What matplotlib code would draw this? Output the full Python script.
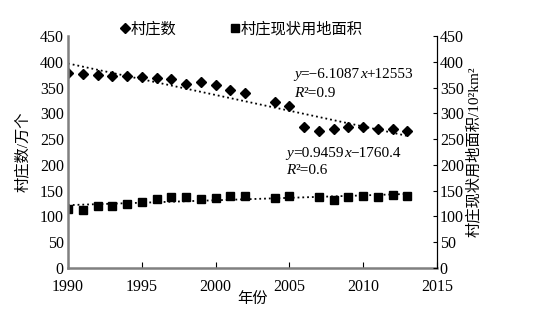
import matplotlib
matplotlib.use("Agg")
import matplotlib.pyplot as plt
from matplotlib.offsetbox import TextArea, HPacker, AnnotationBbox
import numpy as np

plt.rcParams['font.family'] = ['Liberation Serif', 'Noto Sans CJK SC']

# --- data ---
years_village = [1990, 1991, 1992, 1993, 1994, 1995, 1996, 1997, 1998, 1999, 2000,
                 2001, 2002, 2004, 2005, 2006, 2007, 2008, 2009, 2010, 2011, 2012, 2013]
village_count = [378, 377, 375, 372, 372, 370, 368, 366, 356, 360, 354,
                 346, 340, 322, 315, 273, 266, 269, 273, 274, 269, 269, 266]

years_area = [1990, 1991, 1992, 1993, 1994, 1995, 1996, 1997, 1998, 1999, 2000,
              2001, 2002, 2004, 2005, 2007, 2008, 2009, 2010, 2011, 2012, 2013]
land_area = [114, 112, 120, 121, 125, 128, 134, 137, 138, 134, 136,
             140, 139, 136, 140, 138, 132, 137, 140, 138, 142, 140]

# trend line coefficients (slope, intercept) as printed on the chart
fit_village = (-6.1087, 12553)
fit_area = (0.9459, -1760.4)
fit_range = [1990, 2013]

fig = plt.figure(figsize=(5.42, 3.24), dpi=100)
ax = fig.add_axes([0.1255, 0.1728, 0.6808, 0.7161])
ax2 = ax.twinx()

p1, = ax.plot(years_village, village_count, 'D', color='black', markersize=5, linestyle='none', label='村庄数')
p2, = ax.plot(years_area, land_area, 's', color='black', markersize=6, linestyle='none', label='村庄现状用地面积')

xs = np.array(fit_range)
ax.plot(xs, fit_village[0] * xs + fit_village[1], color='black', linestyle=':', linewidth=1.3)
ax.plot(xs, fit_area[0] * xs + fit_area[1], color='black', linestyle=':', linewidth=1.3)

ax.set_xlim(1990, 2015)
ax.set_ylim(0, 450)
ax2.set_ylim(0, 450)
ax.set_xticks([1990, 1995, 2000, 2005, 2010, 2015])
ax.set_yticks(range(0, 451, 50))
ax2.set_yticks(range(0, 451, 50))

for a in (ax, ax2):
    a.spines['top'].set_visible(False)
ax.spines['left'].set_color('#808080')
ax.spines['bottom'].set_color('#808080')
ax.spines['left'].set_linewidth(1.8)
ax.spines['bottom'].set_linewidth(1.8)
ax2.spines['left'].set_visible(False)
ax2.spines['bottom'].set_visible(False)
ax2.spines['right'].set_color('black')
ax2.spines['right'].set_linewidth(0.8)

ax.tick_params(axis='x', direction='in', length=4, color='black', labelsize=11.5, pad=8)
ax.tick_params(axis='y', direction='in', length=0, labelsize=11.5, pad=3)
ax2.tick_params(axis='y', direction='in', length=3, labelsize=11.5, pad=2)
for lbl in ax.get_yticklabels() + ax2.get_yticklabels():
    lbl.set_verticalalignment('center_baseline')

ax.set_xlabel('年份', fontsize=11, labelpad=-2)
ax.set_ylabel('村庄数/万个', fontsize=11, labelpad=7)
ax2.set_ylabel('村庄现状用地面积/10²km²', fontsize=11, labelpad=2)


def rich_text(x, y, parts):
    # parts: list of (text, italic)
    boxes = [TextArea(t, textprops=dict(fontsize=11, style='italic' if it else 'normal'))
             for t, it in parts]
    pack = HPacker(children=boxes, align='baseline', pad=0, sep=0)
    ab = AnnotationBbox(pack, (x, y), xycoords='data', box_alignment=(0, 0.5),
                        frameon=False, pad=0)
    ax.add_artist(ab)


rich_text(2005.3, 375, [('y', True), ('=\u22126.1087', False), ('x', True), ('+12553', False)])
rich_text(2005.3, 338, [('R', True), ('\u00b2=0.9', False)])
rich_text(2004.8, 222, [('y', True), ('=0.9459', False), ('x', True), ('\u22121760.4', False)])
rich_text(2004.8, 189, [('R', True), ('\u00b2=0.6', False)])

ax.legend(handles=[p1, p2], ncol=2, frameon=False, loc='center',
          bbox_to_anchor=(0.47, 1.03), fontsize=11, handlelength=0.6,
          handletextpad=0.1, columnspacing=3.5, borderaxespad=0)

fig.savefig('out.png', dpi=100)
